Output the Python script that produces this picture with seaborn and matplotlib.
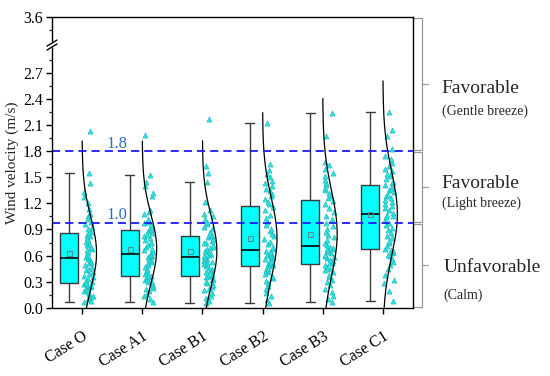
import numpy as np
import pandas as pd
import matplotlib
matplotlib.use("Agg")
import matplotlib.pyplot as plt
import seaborn as sns
from matplotlib.ticker import FixedLocator, FormatStrFormatter
from matplotlib.transforms import ScaledTranslation

# ---------------- data ----------------
cases = ["Case O", "Case A1", "Case B1", "Case B2", "Case B3", "Case C1"]

case_o = [0.06, 0.08, 0.10, 0.12, 0.14, 0.16, 0.18, 0.19, 0.21, 0.22, 0.24, 0.25, 0.26, 0.27, 0.28,
          0.29, 0.31, 0.33, 0.35, 0.37, 0.39, 0.41, 0.43, 0.45, 0.47, 0.49, 0.51, 0.53, 0.55, 0.56,
          0.58, 0.60, 0.62, 0.64, 0.66, 0.68, 0.70, 0.72, 0.74, 0.76, 0.78, 0.80, 0.82, 0.84, 0.85,
          0.87, 0.90, 0.93, 0.96, 0.99, 1.02, 1.05, 1.08, 1.13, 1.20, 1.27, 1.33, 1.43, 1.55, 2.03]
case_a1 = [0.07, 0.10, 0.13, 0.16, 0.19, 0.21, 0.23, 0.25, 0.27, 0.29, 0.30, 0.32, 0.33, 0.35, 0.36,
           0.37, 0.39, 0.41, 0.43, 0.45, 0.47, 0.49, 0.51, 0.53, 0.55, 0.56, 0.58, 0.59, 0.60, 0.61,
           0.62, 0.64, 0.66, 0.68, 0.70, 0.72, 0.74, 0.76, 0.78, 0.80, 0.82, 0.84, 0.86, 0.88, 0.89,
           0.91, 0.93, 0.95, 0.97, 0.99, 1.02, 1.08, 1.10, 1.12, 1.28, 1.32, 1.40, 1.45, 1.53, 1.99]
case_b1 = [0.05, 0.08, 0.11, 0.14, 0.17, 0.20, 0.22, 0.24, 0.26, 0.28, 0.30, 0.32, 0.33, 0.35, 0.36,
           0.37, 0.39, 0.41, 0.42, 0.44, 0.46, 0.48, 0.50, 0.51, 0.53, 0.54, 0.55, 0.56, 0.57, 0.58,
           0.59, 0.61, 0.62, 0.64, 0.65, 0.67, 0.69, 0.70, 0.72, 0.74, 0.75, 0.77, 0.79, 0.81, 0.82,
           0.84, 0.87, 0.90, 0.93, 0.96, 0.99, 1.02, 1.05, 1.08, 1.12, 1.22, 1.45, 1.55, 1.63, 2.17]
case_b2 = [0.05, 0.09, 0.13, 0.17, 0.21, 0.25, 0.28, 0.31, 0.34, 0.37, 0.39, 0.41, 0.43, 0.45, 0.46,
           0.48, 0.49, 0.50, 0.52, 0.53, 0.54, 0.56, 0.57, 0.58, 0.60, 0.61, 0.62, 0.63, 0.64, 0.65,
           0.67, 0.70, 0.73, 0.76, 0.79, 0.82, 0.85, 0.88, 0.91, 0.95, 0.99, 1.03, 1.07, 1.12, 1.16,
           1.19, 1.22, 1.25, 1.28, 1.31, 1.34, 1.37, 1.40, 1.43, 1.46, 1.50, 1.54, 1.58, 1.65, 2.12]
case_b3 = [0.06, 0.10, 0.14, 0.18, 0.22, 0.26, 0.29, 0.32, 0.35, 0.38, 0.41, 0.43, 0.45, 0.47, 0.49,
           0.51, 0.52, 0.54, 0.55, 0.57, 0.58, 0.60, 0.61, 0.63, 0.64, 0.66, 0.67, 0.68, 0.69, 0.70,
           0.72, 0.75, 0.78, 0.81, 0.84, 0.87, 0.90, 0.94, 0.98, 1.02, 1.06, 1.10, 1.15, 1.19, 1.23,
           1.26, 1.29, 1.32, 1.35, 1.38, 1.41, 1.44, 1.47, 1.51, 1.55, 1.60, 1.64, 1.68, 1.97, 2.24]
case_c1 = [0.08, 0.19, 0.28, 0.32, 0.38, 0.44, 0.49, 0.53, 0.56, 0.59, 0.61, 0.63, 0.64, 0.65, 0.66,
           0.68, 0.71, 0.74, 0.77, 0.80, 0.83, 0.86, 0.89, 0.92, 0.95, 0.98, 1.01, 1.04, 1.06, 1.07,
           1.09, 1.12, 1.15, 1.17, 1.19, 1.22, 1.24, 1.26, 1.28, 1.30, 1.33, 1.35, 1.37, 1.39, 1.41,
           1.43, 1.45, 1.48, 1.51, 1.54, 1.57, 1.60, 1.63, 1.67, 1.71, 1.75, 1.83, 1.97, 2.05, 2.25]
wind = [case_o, case_a1, case_b1, case_b2, case_b3, case_c1]

threshold_values = [1.8, 0.98]
threshold_labels = ["1.8", "1.0"]

y_major = [0.0, 0.3, 0.6, 0.9, 1.2, 1.5, 1.8, 2.1, 2.4, 2.7, 3.6]
y_minor = [0.15, 0.45, 0.75, 1.05, 1.35, 1.65, 1.95, 2.25, 2.55, 2.85, 3.45]

zone_bounds = [(3.6, 1.8), (1.8, 0.98), (0.98, 0.0)]
zone_titles = ["Favorable", "Favorable", "Unfavorable"]
zone_notes = ["(Gentle breeze)", "(Light breeze)", "(Calm)"]

# ---------------- style ----------------
sns.set_style("ticks")
plt.rcParams["font.family"] = ["Liberation Serif", "DejaVu Serif"]

W, H = 550, 376
fig = plt.figure(figsize=(W / 100, H / 100), dpi=100)
ax_left, ax_right, ax_top, ax_bot = 52, 413, 17, 307.7
ax = fig.add_axes([ax_left / W, 1 - ax_bot / H, (ax_right - ax_left) / W, (ax_bot - ax_top) / H])

rows = []
for i, (c, vals) in enumerate(zip(cases, wind)):
    for v in vals:
        rows.append({"case": c, "pos": i, "v": v})
df = pd.DataFrame(rows)
df["box_x"] = df["pos"] - 0.21
df["pt_x"] = df["pos"] + 0.105

sns.boxplot(data=df, x="box_x", y="v", native_scale=True, width=0.30,
            color="#00FFFF", saturation=1, linecolor="#3a3a3a", linewidth=1.0,
            showfliers=False, showmeans=True,
            meanprops=dict(marker="s", markerfacecolor="none", markeredgecolor="#4f8f8f",
                           markersize=3.6, markeredgewidth=0.8),
            medianprops=dict(color="black", linewidth=1.2),
            ax=ax, zorder=2)

np.random.seed(7)
sns.stripplot(data=df, x="pt_x", y="v", native_scale=True, jitter=0.08,
              marker="^", color="#2FE3E3", size=3.7, edgecolor="#12B4B4", linewidth=0.4,
              ax=ax, zorder=3)

# normal distribution curves
for i, vals in enumerate(wind):
    arr = np.asarray(vals)
    mu, sd = arr.mean(), arr.std(ddof=1)
    yy = np.linspace(max(0.0, mu - 3.15 * sd), mu + 3.15 * sd, 300)
    xx = i + 0.24 * np.exp(-0.5 * ((yy - mu) / sd) ** 2)
    ax.plot(xx, yy, color="black", lw=0.9, zorder=4)

# threshold lines
for v, lab in zip(threshold_values, threshold_labels):
    ax.axhline(v, color="#1a1aff", lw=1.3, dashes=(4.5, 2.8), zorder=5)
    ax.text(0.58, v + 0.035, lab, color="#2b6cc4", fontsize=12, ha="center", va="baseline", zorder=6)

# broken y axis scale
brk_real = [-10.0, 3.0, 3.3, 10.0]
brk_vis = [-10.0, 3.0, 3.045, 9.745]


def fwd(y):
    return np.interp(y, brk_real, brk_vis)


def inv(u):
    return np.interp(u, brk_vis, brk_real)


ax.set_yscale("function", functions=(fwd, inv))
ax.set_ylim(0, 3.6)
ax.set_xlim(-0.5, 5.5)


def yfrac(v):
    return (fwd(v) - fwd(0.0)) / (fwd(3.6) - fwd(0.0))


ax.yaxis.set_major_locator(FixedLocator(y_major))
ax.yaxis.set_minor_locator(FixedLocator(y_minor))
ax.yaxis.set_major_formatter(FormatStrFormatter("%.1f"))
ax.set_xticks(range(len(cases)))
ax.set_xticklabels(cases, rotation=32, ha="right", va="top", rotation_mode="anchor")
for lab in ax.get_xticklabels():
    lab.set_transform(lab.get_transform() + ScaledTranslation(4 / 100, 0, fig.dpi_scale_trans))

ax.tick_params(axis="x", which="major", direction="out", length=4, width=1, pad=11,
               labelsize=11.5, colors="black")
ax.tick_params(axis="y", which="major", direction="out", length=4.5, width=1, pad=2,
               labelsize=11.5, colors="black")
ax.tick_params(axis="y", which="minor", direction="out", length=2.5, width=0.9, left=True)
ax.set_xlabel("")
ax.set_ylabel("Wind velocity (m/s)", fontsize=11, labelpad=3)

for side in ["top", "right", "bottom"]:
    ax.spines[side].set_color("black")
    ax.spines[side].set_linewidth(1.0)
ax.spines["left"].set_visible(False)

# left spine with break
lo, hi = yfrac(3.0), yfrac(3.3)
ax.plot([0, 0], [0, lo], transform=ax.transAxes, color="black", lw=1.0, clip_on=False,
        solid_capstyle="butt", zorder=7)
ax.plot([0, 0], [hi, 1], transform=ax.transAxes, color="black", lw=1.0, clip_on=False,
        solid_capstyle="butt", zorder=7)
axw, axh = ax_right - ax_left, ax_bot - ax_top
for yc in (lo, hi):
    ax.plot([-5 / axw, 5 / axw], [yc - 3 / axh, yc + 3 / axh], transform=ax.transAxes,
            color="black", lw=1.0, clip_on=False, zorder=7)

# zone braces on the right
bx0, bx1, bx2 = 1.003, (422 - ax_left) / axw, (428 - ax_left) / axw
for top, bot in zone_bounds:
    yt, yb = yfrac(top) - 1.0 / axh, yfrac(bot) + 1.0 / axh
    ym = (yt + yb) / 2
    ax.plot([bx0, bx1, bx1, bx0], [yt, yt, yb, yb], transform=ax.transAxes,
            color="#9a9a9a", lw=0.9, clip_on=False)
    ax.plot([bx1, bx2], [ym, ym], transform=ax.transAxes, color="#9a9a9a", lw=0.9, clip_on=False)

title_pos = [(441.7, 92.7), (441.7, 188.3), (443.3, 271.7)]
note_pos = [(441.7, 115.0), (441.7, 206.7), (443.0, 299.0)]
for t, n, (tx, ty), (nx, ny) in zip(zone_titles, zone_notes, title_pos, note_pos):
    fig.text(tx / W, 1 - ty / H, t, fontsize=14, ha="left", va="baseline")
    fig.text(nx / W, 1 - ny / H, n, fontsize=10, ha="left", va="baseline")

fig.savefig("out.png", dpi=100)
